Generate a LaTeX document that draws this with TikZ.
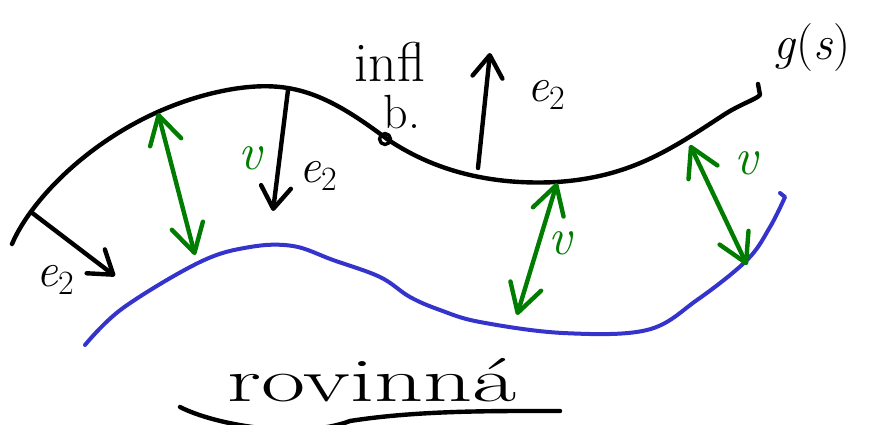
\documentclass[tikz,border=0pt]{standalone}
\usetikzlibrary{arrows.meta}
\definecolor{skgreen}{RGB}{0,125,0}
\definecolor{skblue}{RGB}{52,52,204}
\newcommand{\skEtwo}{\textit{e}\raisebox{-0.35ex}{\fontsize{34}{34}\selectfont 2}}
\tikzset{
  ink/.style={line width=4.4pt, line cap=round, line join=round},
  barb/.style={-{Straight Barb[length=22pt,width=30pt,round]}},
  dbarb/.style={{Straight Barb[length=28pt,width=32pt,round]}-{Straight Barb[length=28pt,width=32pt,round]}},
  lab/.style={inner sep=0pt, font=\fontsize{48}{48}\selectfont},
  glab/.style={lab, text=skgreen, font=\fontsize{52}{52}\selectfont\itshape},
}
\begin{document}
\begin{tikzpicture}[x=1pt,y=-1pt]
\useasboundingbox (0,0) rectangle (877,424);
% upper curve g(s)
\draw[ink] (12,244) .. controls (35,190) and (120,108) .. (233,89)
  .. controls (290,80) and (325,92) .. (387,139)
  .. controls (440,175) and (500,185) .. (557,182)
  .. controls (630,177) and (670,150) .. (722,116)
  .. controls (740,104) and (755,100) .. (760,95) -- (758,84);
% inflection point
\node[draw, ink, line width=3.4pt, circle, minimum size=11pt, inner sep=0pt] (infp) at (385,139) {};
% lower curve
\draw[ink, skblue, line width=4pt] plot[smooth, tension=0.6] coordinates {(85,345) (123,308) (200,262) (250,247) (293,246) (333,260) (380,277) (410,297) (440,310) (480,322) (563,333) (647,330) (697,300) (747,260) (770,227) (785,197)} -- (780,193);
% black e2 arrows
\coordinate (a1s) at (31,212); \coordinate (a1e) at (115,276);
\coordinate (a2s) at (288,90); \coordinate (a2e) at (273,211);
\coordinate (a3s) at (478,168); \coordinate (a3e) at (490,53);
\draw[ink, barb] (a1s) -- (a1e);
\draw[ink, barb] (a2s) -- (a2e);
\draw[ink, barb] (a3s) -- (a3e);
% green distance arrows
\coordinate (g1a) at (158,113); \coordinate (g1b) at (195,255);
\coordinate (g2a) at (557,183); \coordinate (g2b) at (517,315);
\coordinate (g3a) at (690,145); \coordinate (g3b) at (747,265);
\draw[ink, skgreen, dbarb] (g1a) -- (g1b);
\draw[ink, skgreen, dbarb] (g2a) -- (g2b);
\draw[ink, skgreen, dbarb] (g3a) -- (g3b);
% labels
\node[lab] (l1) at (55,280) {\skEtwo};
\node[lab] (l2) at (318,176) {\skEtwo};
\node[lab] (l3) at (546,95) {\skEtwo};
\node[glab] (v1) at (250,158) {v};
\node[glab] (v2) at (560,243) {v};
\node[glab] (v3) at (746,163) {v};
\node[lab, font=\fontsize{56}{56}\selectfont] (infl) at (390,62) {infl};
\node[lab] (bod) at (402,112) {b.};
\node[lab] (gs) at (812,48) {\textit{g}(\textit{s})};
\node[lab, font=\fontsize{62}{62}\selectfont, xscale=1.55] (rov) at (372,380) {rovinná};
\draw[ink] (180,407) .. controls (215,425) and (300,440) .. (350,421) .. controls (420,410) and (500,411) .. (560,411);
\end{tikzpicture}
\end{document}
